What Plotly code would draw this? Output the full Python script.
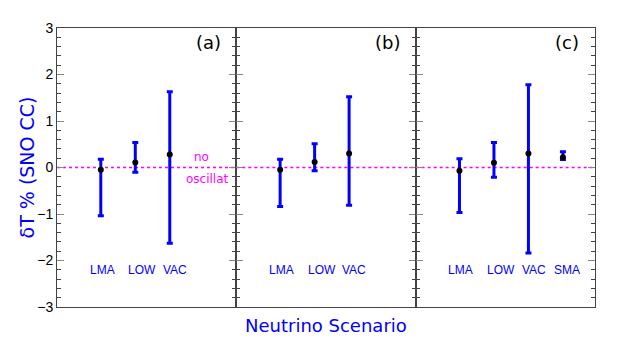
import plotly.graph_objects as go

panel_names = ["(a)", "(b)", "(c)"]
categories = ["LMA", "LOW", "VAC", "SMA"]

central_a = [-0.05, 0.11, 0.28]
upper_a = [0.18, 0.54, 1.63]
lower_a = [-1.04, -0.10, -1.63]

central_b = [-0.05, 0.12, 0.30]
upper_b = [0.18, 0.51, 1.52]
lower_b = [-0.84, -0.07, -0.81]

central_c = [-0.07, 0.10, 0.30, 0.22]
upper_c = [0.19, 0.54, 1.78, 0.34]
lower_c = [-0.97, -0.21, -1.84, 0.17]

y_ticks = [-3, -2, -1, 0, 1, 2, 3]

panels = [
    (central_a, upper_a, lower_a),
    (central_b, upper_b, lower_b),
    (central_c, upper_c, lower_c),
]

BLUE = "#0000ff"
MAGENTA = "#ff00ff"
FONT = "Liberation Sans"
TFONT = "DejaVu Sans"
label_offsets = [0.04, 0.2, 0.15, 0.12]

fig = go.Figure()
annotations = []
shapes = []
for i, (c, u, l) in enumerate(panels):
    n = i + 1
    xs = [k + 1 for k in range(len(c))]
    xsuf = str(n) if n > 1 else ""
    fig.add_trace(go.Scatter(
        x=xs, y=c, mode="markers",
        marker=dict(color="black", size=6),
        error_y=dict(type="data", symmetric=False,
                     array=[uu - cc for uu, cc in zip(u, c)],
                     arrayminus=[cc - ll for cc, ll in zip(c, l)],
                     color=BLUE, thickness=3, width=3),
        xaxis=f"x{xsuf}", yaxis=f"y{xsuf}",
        showlegend=False,
    ))
    fig.layout[f"xaxis{xsuf}"] = dict(
        domain=[i / 3, (i + 1) / 3], range=[-0.27, 4.93],
        showticklabels=False, ticks="", showgrid=False, zeroline=False,
        showline=True, linecolor="#444", linewidth=1, mirror=True,
        anchor=f"y{xsuf}",
    )
    fig.layout[f"yaxis{xsuf}"] = dict(
        range=[-3, 3], tickvals=y_ticks, ticks="inside", ticklen=7,
        tickcolor="#888", tickwidth=1,
        minor=dict(dtick=0.2, ticklen=4, ticks="inside", tickcolor="#444"),
        showticklabels=(n == 1), tickfont=dict(family=FONT, size=14, color="black"),
        showgrid=False, zeroline=False, showline=True, linecolor="#444",
        linewidth=1, mirror="allticks", anchor=f"x{xsuf}",
    )
    for k in range(len(c)):
        annotations.append(dict(
            x=k + 1 + label_offsets[k], y=-2.2, xref=f"x{xsuf}", yref=f"y{xsuf}",
            text=categories[k], showarrow=False,
            font=dict(family=FONT, size=12, color=BLUE),
        ))
    annotations.append(dict(
        x=4.12, y=2.68, xref=f"x{xsuf}", yref=f"y{xsuf}", text=panel_names[i],
        showarrow=False, font=dict(family=TFONT, size=18, color="black"),
    ))
    shapes.append(dict(
        type="line", xref=f"x{xsuf} domain", yref=f"y{xsuf}", x0=0, x1=1, y0=0, y1=0,
        line=dict(color=MAGENTA, width=1.5, dash="dot"), layer="below",
    ))

annotations.append(dict(x=3.92, y=0.22, xref="x", yref="y", text="no", showarrow=False,
                        font=dict(family=TFONT, size=12, color=MAGENTA)))
annotations.append(dict(x=4.08, y=-0.24, xref="x", yref="y", text="oscillat", showarrow=False,
                        font=dict(family=TFONT, size=12, color=MAGENTA)))
annotations.append(dict(x=0.5, y=-0.068, xref="paper", yref="paper", text="Neutrino Scenario",
                        showarrow=False, yanchor="middle",
                        font=dict(family=TFONT, size=18, color=BLUE)))
annotations.append(dict(x=-0.0558, y=0.5, xref="paper", yref="paper", text="δT % (SNO CC)",
                        showarrow=False, textangle=-90, xanchor="center",
                        font=dict(family=TFONT, size=19, color=BLUE)))

fig.update_layout(
    width=607, height=332,
    margin=dict(l=49, r=20, t=18, b=33),
    paper_bgcolor="white", plot_bgcolor="white",
    annotations=annotations, shapes=shapes,
)

fig.write_html("out.html")
